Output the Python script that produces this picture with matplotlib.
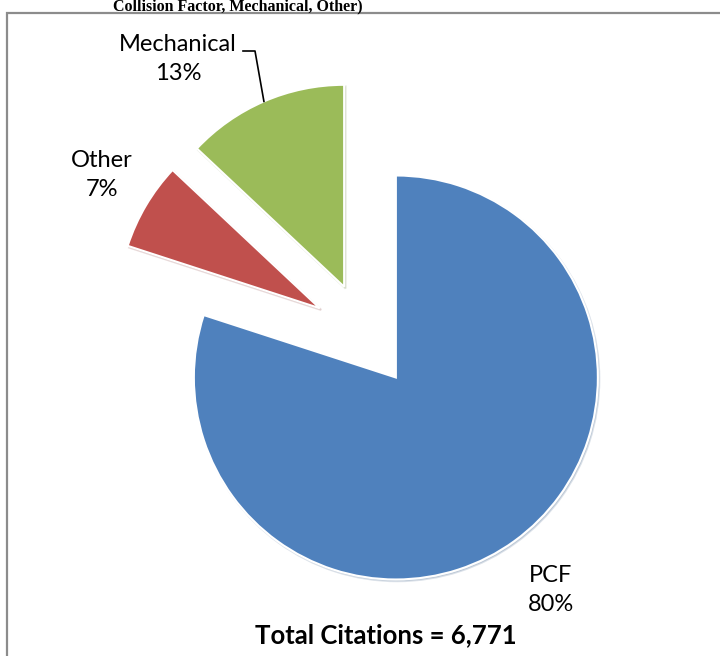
import matplotlib.pyplot as plt
import matplotlib.patches as patches
import numpy as np

# citation shares by category (clockwise from 12 o'clock)
categories = ["PCF", "Other", "Mechanical"]
shares = [80, 7, 13]
colors = ["#4F81BD", "#C0504D", "#9BBB59"]
total_citations = "6,771"

W, H = 720, 656
R = 202.0          # pie radius in pixels
cx, cy = 365, 335  # pie centre in pixels (from top left)


def fx(px):
    return px / W


def fy(py):
    return 1 - py / H


fig = plt.figure(figsize=(W / 100, H / 100), dpi=100)
ax = fig.add_axes([0, 0, 1, 1])

wedges, _ = ax.pie(shares, colors=colors, startangle=90, counterclock=False,
                   explode=[0.26] * 3, radius=1, center=(0, 0),
                   wedgeprops=dict(edgecolor="white", linewidth=1.5),
                   shadow=dict(ox=0.005, oy=-0.006, shade=0.3, alpha=0.18))

ax.set_xlim(-cx / R, (W - cx) / R)
ax.set_ylim(-(H - cy) / R, cy / R)
ax.set_aspect("equal")
ax.axis("off")

# chart border (runs off the right and bottom)
fig.patches.append(patches.Rectangle((fx(7), fy(680)), fx(740), 667 / H,
                                     transform=fig.transFigure, fill=False,
                                     edgecolor="#8c8c8c", linewidth=1.6))

# cut-off title
fig.text(fx(238), fy(10), "Collision Factor, Mechanical, Other)",
         family="Liberation Serif", weight="bold", fontsize=11.5,
         ha="center", va="baseline")

lab_font = dict(family="Lato", fontsize=17, ha="center", va="center",
                linespacing=1.45)
fig.text(fx(551), fy(590), "PCF\n80%", **lab_font)
fig.text(fx(102), fy(175), "Other\n7%", **lab_font)
fig.text(fx(178), fy(59), "Mechanical\n13%", **lab_font)

# leader line from Mechanical label to the middle of its arc
mech = wedges[categories.index("Mechanical")]
mid = np.deg2rad((mech.theta1 + mech.theta2) / 2)
ex = mech.center[0] + mech.r * np.cos(mid)
ey = mech.center[1] + mech.r * np.sin(mid)
kx = (255 - cx) / R
ky = (cy - 51) / R
ax.plot([(243 - cx) / R, kx, ex], [ky, ky, ey], color="black", lw=1.2)

fig.text(fx(386), fy(635), "Total Citations = " + total_citations,
         family="Lato", weight="bold", fontsize=18.5, ha="center", va="center")

fig.savefig("out.png", dpi=100)
